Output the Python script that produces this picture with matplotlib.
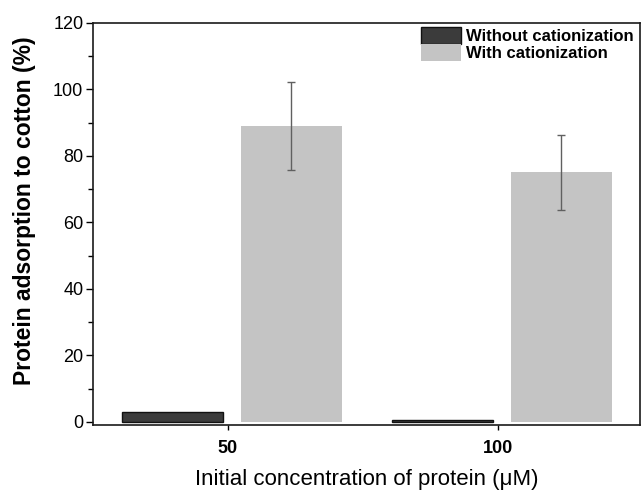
import numpy as np
import matplotlib
matplotlib.use('Agg')
import matplotlib.pyplot as plt
from matplotlib.ticker import MultipleLocator

plt.rcParams['font.family'] = ['Liberation Sans', 'DejaVu Sans']

concentrations = ['50', '100']
without_cat = [3.0, 0.6]
with_cat = [89.0, 75.0]
with_cat_err = [13.3, 11.3]

x = np.arange(len(concentrations))
width = 0.372

fig = plt.figure(figsize=(6.43, 4.92), dpi=100)
ax = fig.add_axes([0.1446, 0.1362, 0.8507, 0.8177])

ax.bar(x - 0.205, without_cat, width, color='#3b3b3b', edgecolor='#111111',
       linewidth=1.0, label='Without cationization')
ax.bar(x + 0.235, with_cat, width, color='#c4c4c4', edgecolor='none',
       label='With cationization')
ax.errorbar(x + 0.235, with_cat, yerr=with_cat_err, fmt='none', ecolor='#606060',
            elinewidth=1.0, capsize=3, capthick=1.0)

ax.set_xlim(-0.5, 1.526)
ax.set_ylim(-0.9, 120)
ax.set_xticks(x)
ax.set_xticklabels(concentrations, fontsize=13, fontweight='bold')
ax.yaxis.set_major_locator(MultipleLocator(20))
ax.yaxis.set_minor_locator(MultipleLocator(10))
ax.tick_params(axis='y', which='major', direction='out', length=5, width=1, labelsize=13, pad=2)
ax.tick_params(axis='y', which='minor', direction='out', length=3.5, width=1)
ax.tick_params(axis='x', direction='out', length=3.5, width=1, pad=7)
for s in ax.spines.values():
    s.set_linewidth(1.2)
    s.set_color('#1a1a1a')

ax.set_ylabel('Protein adsorption to cotton (%)', fontsize=16.5, fontweight='bold')
ax.yaxis.set_label_coords(-0.104, 0.532)
ax.set_xlabel('Initial concentration of protein (\u03bcM)', fontsize=16, labelpad=9)

leg = ax.legend(loc='upper left', bbox_to_anchor=(0.599, 0.989), frameon=False,
                prop={'weight': 'bold', 'size': 12}, handlelength=2.4,
                handleheight=1.2, labelspacing=0.0, handletextpad=0.35,
                borderaxespad=0.0, borderpad=0.0)

fig.savefig('out.png', dpi=100)
